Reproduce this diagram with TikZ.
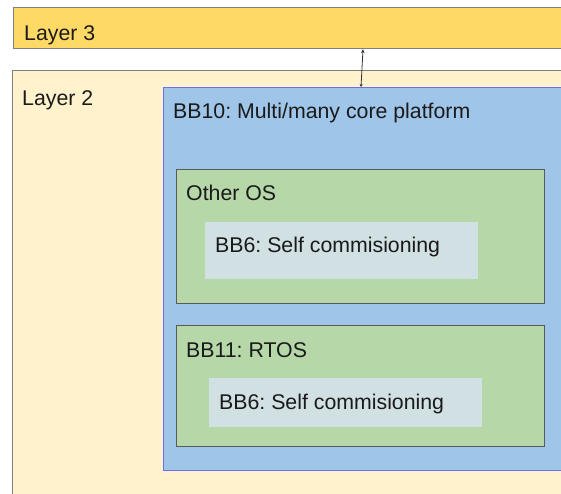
\documentclass[tikz,border=0pt]{standalone}
\usepackage{fontspec}
\setmainfont{Liberation Sans}
\usetikzlibrary{arrows.meta}
\definecolor{yel}{HTML}{FFD966}
\definecolor{cream}{HTML}{FFF2CC}
\definecolor{bluef}{HTML}{9FC5E8}
\definecolor{blued}{HTML}{6D6DF2}
\definecolor{greenf}{HTML}{B6D7A8}
\definecolor{greyf}{HTML}{D0E0E3}
\definecolor{edge}{HTML}{7F7F7F}
\definecolor{darkedge}{HTML}{595959}
\definecolor{txt}{HTML}{1A1A1A}
\frenchspacing
\tikzset{
  box/.style={rectangle, inner sep=0pt, anchor=north west, line width=1.2pt},
  lbl/.style={anchor=base west, inner sep=0pt, text=txt, font=\fontsize{21.3}{25}\selectfont},
}
\begin{document}
\begin{tikzpicture}[x=1pt,y=-1pt]
\useasboundingbox (0,0) rectangle (561,493);
\clip (0,0) rectangle (561,493);
\fill[white] (0,0) rectangle (561,493);
\node[box, fill=yel, draw=edge, minimum width=565pt, minimum height=41pt] (l3) at (13,7) {};
\node[box, fill=cream, draw=edge, minimum width=565pt, minimum height=440pt] (l2) at (12,70) {};
\node[box, fill=bluef, draw=blued, minimum width=415pt, minimum height=383pt] (bb10) at (163,87) {};
\node[box, fill=greenf, draw=darkedge, minimum width=368pt, minimum height=134pt] (os) at (176,169) {};
\node[box, fill=greyf, minimum width=273pt, minimum height=57pt] (bb6a) at (204,221) {};
\node[box, fill=greenf, draw=darkedge, minimum width=368pt, minimum height=121pt] (rtos) at (176,325) {};
\node[box, fill=greyf, minimum width=273pt, minimum height=49pt] (bb6b) at (208,377) {};
\node[lbl] (t3) at (24,40) {Layer 3};
\node[lbl] (t2) at (22,105) {Layer 2};
\node[lbl] (t10) at (173,118) {BB10: Multi/many core platform};
\node[lbl] (tos) at (186,200) {Other OS};
\node[lbl] (t6a) at (215,252) {BB6: Self commisioning};
\node[lbl] (t11) at (186,357) {BB11: RTOS};
\node[lbl] (t6b) at (219,409) {BB6: Self commisioning};
\coordinate (a1) at (l3.south -| 363,0);
\coordinate (a2) at (bb10.north -| 361,0);
\draw[{Stealth[length=4pt,width=3.5pt]}-{Stealth[length=3pt,width=3pt]}, line width=0.8pt, draw=black!80] (a1) -- (a2);
\end{tikzpicture}
\end{document}
